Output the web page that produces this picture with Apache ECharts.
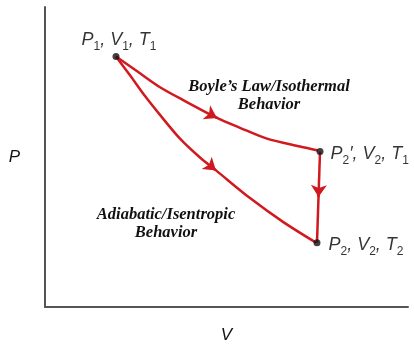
<!DOCTYPE html>
<html><head><meta charset="utf-8">
<script src="https://cdn.jsdelivr.net/npm/echarts@6/dist/echarts.min.js"></script>
<style>html,body{margin:0;padding:0;background:#fff}#c{width:414px;height:349px}</style>
</head><body><div id="c"></div>
<script>
// Isothermal (Boyle's law) path P1 -> P2'
var isoV = [1.956, 2.617, 3.168, 3.857, 4.738, 5.372, 6.116, 7.025, 7.521];
var isoP = [8.350, 7.789, 7.327, 6.865, 6.304, 5.974, 5.611, 5.347, 5.215];
// Adiabatic / isentropic path P1 -> P2
var adiV = [1.956, 2.342, 2.755, 3.168, 3.719, 4.270, 4.711, 5.647, 6.556, 7.466];
var adiP = [8.350, 7.723, 7.030, 6.403, 5.611, 4.983, 4.554, 3.630, 2.838, 2.145];
// State points
var stateNames = ['P1', "P2'", 'P2'];
var stateV = [1.956, 7.576, 7.493];
var stateP = [8.350, 5.182, 2.145];
var stateLabels = ['{m|P}{s|1}{m|, V}{s|1}{m|, T}{s|1}', "{m|P}{s|2}{m|\u2032, V}{s|2}{m|, T}{s|1}", '{m|P}{s|2}{m|, V}{s|2}{m|, T}{s|2}'];

var RED = '#d01a1f';
function pairs(a, b) { return a.map(function (v, i) { return [v, b[i]]; }); }
function arrowSeg(x0, y0, x1, y1) {
  var f = 0.15;
  return { coords: [[x1 - (x1 - x0) * f, y1 - (y1 - y0) * f], [x1, y1]] };
}
var rich = {
  m: { fontFamily: 'Liberation Sans', fontStyle: 'italic', fontSize: 18, color: '#000', lineHeight: 22, verticalAlign: 'bottom' },
  s: { fontFamily: 'Liberation Sans', fontSize: 12, color: '#000', lineHeight: 22, verticalAlign: 'bottom', padding: [0, 0, -4, 0] }
};
var labelPos = [
  { position: 'top', distance: 4, offset: [3, 0] },
  { position: 'right', distance: 7 },
  { position: 'right', distance: 8 }
];
var scatterData = stateV.map(function (v, i) {
  return { name: stateNames[i], value: [v, stateP[i]], label: Object.assign({ show: true, formatter: stateLabels[i], rich: rich }, labelPos[i]) };
});
var arrows = [
  arrowSeg(isoV[3], isoP[3], isoV[4], isoP[4]),
  arrowSeg(adiV[5], adiP[5], adiV[6], adiP[6]),
  arrowSeg(stateV[1], stateP[1], (stateV[1] + stateV[2]) / 2, (stateP[1] + stateP[2]) / 2)
];
var chart = echarts.init(document.getElementById('c'));
var noteStyle = { fontFamily: 'Liberation Serif', fontStyle: 'italic', fontWeight: 'bold', fontSize: 16.5, fill: '#111', textAlign: 'center', textVerticalAlign: 'top', lineHeight: 18 };
chart.setOption({
  animation: false,
  grid: { left: 45, right: 6, top: 7, bottom: 39 },
  xAxis: {
    type: 'value', min: 0, max: 10, name: 'V', nameLocation: 'middle', nameGap: 20,
    nameTextStyle: { fontFamily: 'Liberation Sans', fontStyle: 'italic', fontSize: 17, color: '#111' },
    axisLine: { lineStyle: { color: '#555', width: 2 } }, axisTick: { show: false }, axisLabel: { show: false }, splitLine: { show: false }
  },
  yAxis: {
    type: 'value', min: 0, max: 10, name: 'P', nameLocation: 'middle', nameGap: 25, nameRotate: 0,
    nameTextStyle: { fontFamily: 'Liberation Sans', fontStyle: 'italic', fontSize: 17, color: '#111' },
    axisLine: { show: true, lineStyle: { color: '#555', width: 2 } }, axisTick: { show: false }, axisLabel: { show: false }, splitLine: { show: false }
  },
  graphic: [
    { type: 'text', x: 269, y: 78, style: Object.assign({ text: "Boyle\u2019s Law/Isothermal\nBehavior" }, noteStyle) },
    { type: 'text', x: 166, y: 206, style: Object.assign({ text: "Adiabatic/Isentropic\nBehavior" }, noteStyle) }
  ],
  series: [
    { type: 'line', data: pairs(isoV, isoP), smooth: 0.3, symbol: 'none', lineStyle: { color: RED, width: 2.5 } },
    { type: 'line', data: pairs(adiV, adiP), smooth: 0.3, symbol: 'none', lineStyle: { color: RED, width: 2.5 } },
    { type: 'line', data: [[stateV[1], stateP[1]], [stateV[2], stateP[2]]], symbol: 'none', lineStyle: { color: RED, width: 2.5 } },
    { type: 'lines', coordinateSystem: 'cartesian2d', data: arrows, symbol: ['none', 'arrow'], symbolSize: 12, lineStyle: { color: RED, width: 2.5, opacity: 1 }, z: 3 },
    { type: 'scatter', data: scatterData, symbol: 'circle', symbolSize: 7, itemStyle: { color: '#111' }, z: 5 }
  ]
});
</script></body></html>
